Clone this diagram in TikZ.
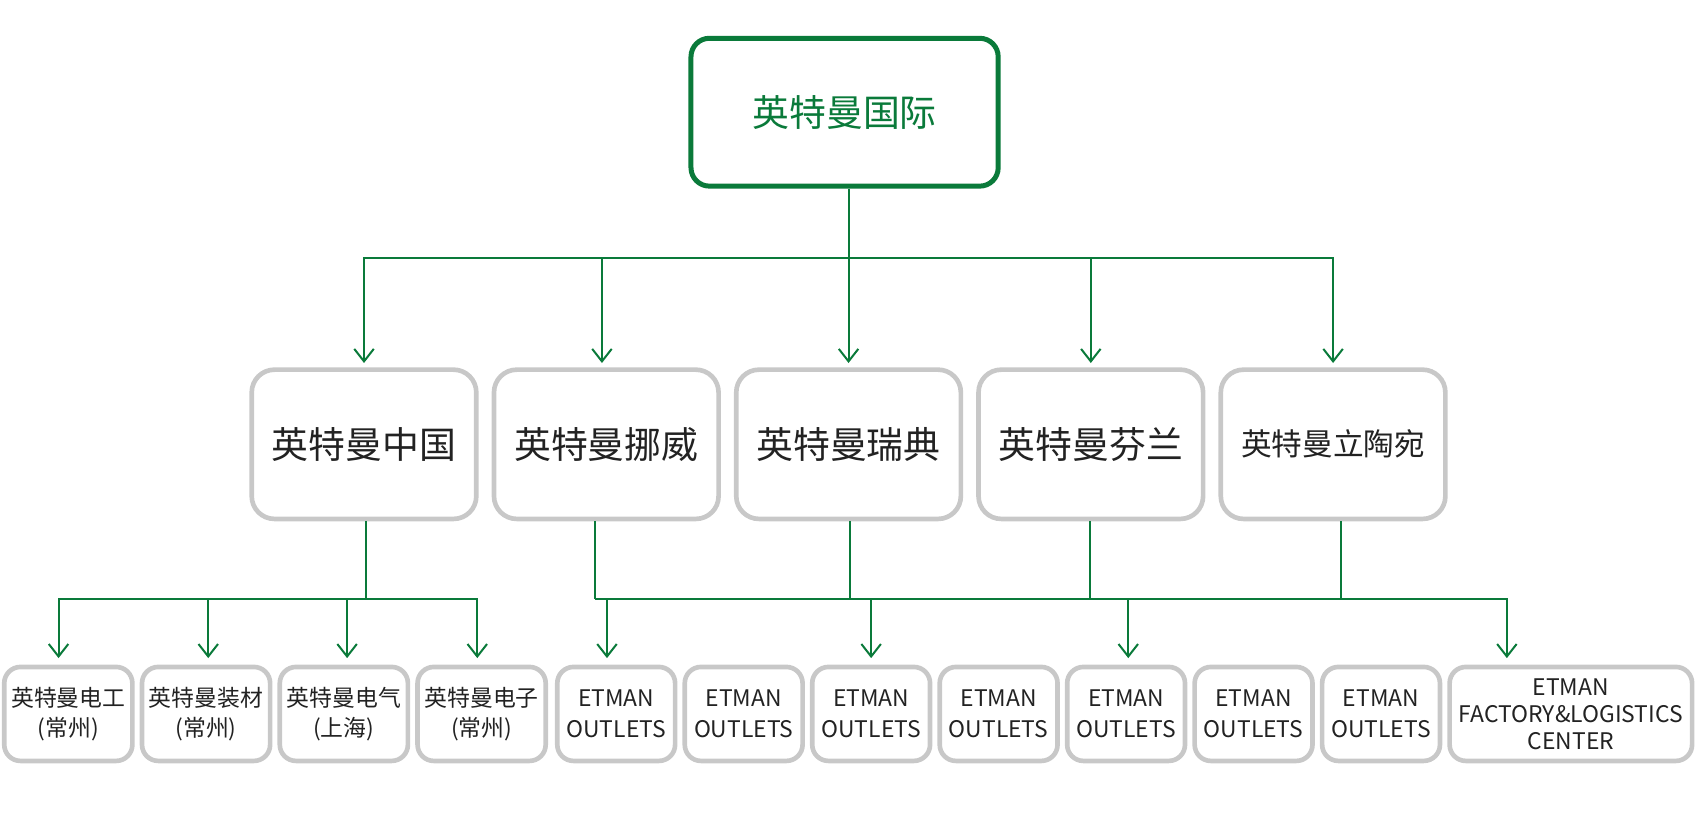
\documentclass[tikz,border=0pt]{standalone}
\usepackage{fontspec}
\setmainfont{Noto Sans CJK SC}
\usetikzlibrary{positioning,calc,arrows.meta}
\definecolor{etgreen}{RGB}{10,122,58}
\definecolor{boxgray}{RGB}{200,200,200}
\definecolor{txtgray}{RGB}{34,34,34}

\begin{document}
\begin{tikzpicture}[x=0.02cm,y=-0.02cm,
  rootbox/.style={draw=etgreen,line width=0.092cm,rounded corners=0.34cm,
    minimum width=5.668cm,minimum height=2.728cm,text=etgreen,
    font={\fontsize{19.35pt}{23pt}\selectfont}},
  midbox/.style={draw=boxgray,line width=0.086cm,rounded corners=0.42cm,
    minimum width=4.144cm,minimum height=2.754cm,text=txtgray,
    font={\fontsize{19.35pt}{23pt}\selectfont}},
  leafbox/.style={draw=boxgray,line width=0.086cm,rounded corners=0.3cm,
    minimum height=1.734cm,inner sep=1pt,align=center,text=txtgray,
    font={\fontsize{12pt}{16pt}\selectfont}},
  cnleaf/.style={leafbox,minimum width=2.364cm},
  etleaf/.style={leafbox,minimum width=2.174cm},
  link/.style={draw=etgreen,line width=0.037cm},
  arr/.style={link,-{Straight Barb[length=0.23cm,width=0.36cm]},shorten >=0.08cm}]
\useasboundingbox (0,0) rectangle (1568,754.5);

\node[rootbox] (rt) at (779,103.5) {英特曼国际};

\node[midbox] (cn) at (335.75,409.8) {英特曼中国};
\node[midbox,right=0.24cm of cn] (no) {英特曼挪威};
\node[midbox,right=0.24cm of no] (sw) {英特曼瑞典};
\node[midbox,right=0.24cm of sw] (fi) {英特曼芬兰};
\node[midbox,right=0.24cm of fi,font={\fontsize{16.1pt}{20pt}\selectfont}] (lt) {英特曼立陶宛};

\node[cnleaf] (c1) at (63,658.5) {英特曼电工\\(常州)};
\node[cnleaf,right=0.092cm of c1] (c2) {英特曼装材\\(常州)};
\node[cnleaf,right=0.092cm of c2] (c3) {英特曼电气\\(上海)};
\node[cnleaf,right=0.092cm of c3] (c4) {英特曼电子\\(常州)};
\node[etleaf,right=0.128cm of c4] (e1) {ETMAN\\OUTLETS};
\node[etleaf,right=0.092cm of e1] (e2) {ETMAN\\OUTLETS};
\node[etleaf,right=0.092cm of e2] (e3) {ETMAN\\OUTLETS};
\node[etleaf,right=0.092cm of e3] (e4) {ETMAN\\OUTLETS};
\node[etleaf,right=0.092cm of e4] (e5) {ETMAN\\OUTLETS};
\node[etleaf,right=0.092cm of e5] (e6) {ETMAN\\OUTLETS};
\node[etleaf,right=0.092cm of e6] (e7) {ETMAN\\OUTLETS};
\node[leafbox,minimum width=4.474cm,right=0.092cm of e7,
  font={\fontsize{12pt}{14.2pt}\selectfont}] (e8) {ETMAN\\FACTORY\&LOGISTICS\\CENTER};

% root to countries
\draw[link] (rt.south -| sw.north) -- ++(0,64) coordinate (bus1);
\foreach \n/\dx in {cn/0,no/-4,sw/0,fi/0,lt/0}
  \draw[arr] (bus1) -| ($(\n.north)+(\dx,0)$);

% china to its companies
\draw[link] ($(cn.south)+(1.5,0)$) -- ++(0,71.5) coordinate (bus2);
\foreach \n/\dx in {c1/-9,c2/2,c3/3,c4/-4}
  \draw[arr,shorten >=0.12cm] (bus2) -| ($(\n.north)+(\dx,0)$);

% other countries to outlets
\draw[link] ($(no.south)+(-10,0)$) -- ++(0,71.5) coordinate (bus3);
\foreach \n/\dx in {sw/1,fi/-1,lt/7}
  \draw[link] ($(\n.south)+(\dx,0)$) -- ++(0,71.5);
\foreach \n/\dx in {e1/-8.5,e3/0,e5/2,e8/-59}
  \draw[arr,shorten >=0.12cm] (bus3) -| ($(\n.north)+(\dx,0)$);
\end{tikzpicture}
\end{document}
